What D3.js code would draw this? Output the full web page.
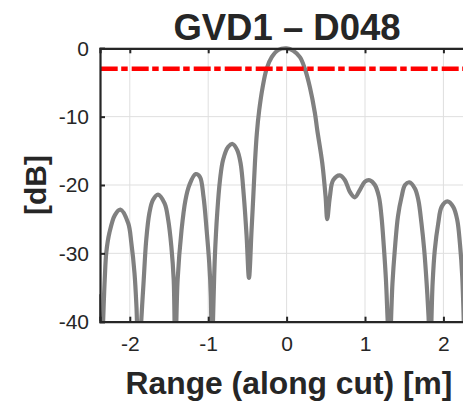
<!DOCTYPE html>
<html>
<head>
<meta charset="utf-8">
<script src="https://cdn.jsdelivr.net/npm/d3@7"></script>
<style>
  body { margin: 0; background: #fff; }
  text { font-family: "Liberation Sans", Arial, sans-serif; fill: #262626; }
</style>
</head>
<body>
<div id="chart"></div>
<script>
// values
var rangeM = [-2.40, -2.365, -2.32, -2.30, -2.26, -2.19, -2.12, -2.02, -1.98, -1.94, -1.915, -1.89,
  -1.83, -1.79, -1.75, -1.705, -1.64, -1.556, -1.51, -1.47, -1.44, -1.42,
  -1.39, -1.34, -1.29, -1.24, -1.16, -1.106, -1.06, -1.02, -0.987, -0.966, -0.955,
  -0.915, -0.885, -0.85, -0.81, -0.745, -0.69, -0.63, -0.587, -0.545, -0.51, -0.48,
  -0.447, -0.425, -0.404, -0.38, -0.35, -0.306, -0.255, -0.19, -0.107, 0, 0.085, 0.17,
  0.233, 0.297, 0.36, 0.39, 0.455, 0.497, 0.518,
  0.552, 0.594, 0.68, 0.744, 0.807, 0.87, 0.935, 0.999, 1.06, 1.126, 1.177, 1.21, 1.24, 1.267, 1.288, 1.31,
  1.35, 1.38, 1.42, 1.467, 1.51, 1.564, 1.636, 1.68, 1.72, 1.755, 1.786, 1.81, 1.83,
  1.862, 1.89, 1.934, 1.977, 2.05, 2.125, 2.176, 2.21, 2.24, 2.27];
var powerDb = [-36, -45, -33.9, -29.9, -27.0, -24.4, -23.6, -25.6, -28.5, -32.9, -37.8, -45,
  -35.3, -28.0, -24.1, -22.2, -21.4, -22.7, -25.1, -29.0, -33.9, -45,
  -33.9, -26.6, -22.2, -20.0, -18.4, -18.8, -21.7, -26.6, -31.4, -36.3, -45,
  -30.5, -24.1, -19.3, -16.3, -14.4, -14.0, -14.9, -16.8, -21.7, -27.5, -33.6,
  -26.6, -21.7, -16.8, -12.5, -9.1, -5.7, -3.0, -1.3, -0.25, 0, -0.35, -1.3,
  -3.0, -5.7, -9.4, -11.9, -16.8, -21.7, -25.0,
  -21.7, -19.3, -18.6, -19.3, -21.0, -21.8, -20.7, -19.5, -19.3, -20.0, -21.7, -24.6, -29.0, -33.9, -39.6, -45,
  -34.4, -29.5, -24.6, -21.7, -20.0, -19.6, -20.5, -22.2, -25.6, -29.5, -34.4, -39.2, -45,
  -34.4, -29.5, -25.6, -23.2, -22.4, -23.2, -25.1, -28.5, -33.4, -45];
var halfPower = -3;
var xTicks = [-2, -1, 0, 1, 2];
var yTicks = [-40, -30, -20, -10, 0];

var W = 463, H = 405;
var margin = { top: 48.3, left: 100 },
    plotW = 374,
    plotH = 273.4;

var svg = d3.select("#chart").append("svg")
    .attr("width", W)
    .attr("height", H);

var x = d3.scaleLinear().domain([-2.38, 2.39]).range([margin.left, margin.left + plotW]);
var y = d3.scaleLinear().domain([-40, 0]).range([margin.top + plotH, margin.top]);

// clip the data at the axes limits, but let the stroke hang over a bit
svg.append("defs").append("clipPath").attr("id", "clip")
  .append("rect")
    .attr("x", margin.left - 1).attr("y", margin.top - 2.5)
    .attr("width", plotW + 1).attr("height", plotH + 2);

// grid
svg.append("g").selectAll("line").data(xTicks).join("line")
    .attr("x1", function (d) { return x(d); }).attr("x2", function (d) { return x(d); })
    .attr("y1", margin.top).attr("y2", margin.top + plotH)
    .attr("stroke", "#dfdfdf").attr("stroke-width", 1);
svg.append("g").selectAll("line").data(yTicks).join("line")
    .attr("y1", function (d) { return y(d); }).attr("y2", function (d) { return y(d); })
    .attr("x1", margin.left).attr("x2", margin.left + plotW)
    .attr("stroke", "#dfdfdf").attr("stroke-width", 1);

// curve
var pts = rangeM.map(function (r, i) { return [r, powerDb[i]]; });
var line = d3.line()
    .x(function (d) { return x(d[0]); })
    .y(function (d) { return y(d[1]); })
    .curve(d3.curveCatmullRom.alpha(0.5));

var plot = svg.append("g").attr("clip-path", "url(#clip)");
plot.append("path")
    .datum(pts)
    .attr("d", line)
    .attr("fill", "none")
    .attr("stroke", "#808080")
    .attr("stroke-width", 4.2)
    .attr("stroke-linejoin", "round");

// -3 dB line
plot.append("line")
    .attr("x1", margin.left + 0.7).attr("x2", margin.left + plotW)
    .attr("y1", y(halfPower)).attr("y2", y(halfPower))
    .attr("stroke", "#ff0000")
    .attr("stroke-width", 4.5)
    .attr("stroke-dasharray", "17,3.5,6.5,4");

// axes
var fmt = function (d) { return String(d); };
var ax = d3.axisBottom(x).tickValues(xTicks).tickSize(-5).tickPadding(14).tickFormat(fmt);
var gx = svg.append("g")
    .attr("transform", "translate(0," + (margin.top + plotH) + ")")
    .call(ax);
var axTop = d3.axisTop(x).tickValues(xTicks).tickSize(-5).tickFormat("");
var gxt = svg.append("g")
    .attr("transform", "translate(0," + margin.top + ")")
    .call(axTop);
var ay = d3.axisLeft(y).tickValues(yTicks).tickSize(-5).tickPadding(11).tickFormat(fmt);
var gy = svg.append("g")
    .attr("transform", "translate(" + margin.left + ",0)")
    .call(ay);

[gx, gxt, gy].forEach(function (g) {
  g.select(".domain").attr("stroke", "#262626").attr("stroke-width", 2.2);
  g.selectAll(".tick line").attr("stroke", "#262626").attr("stroke-width", 2);
  g.selectAll(".tick text")
    .style("font-family", "'Liberation Sans', Arial, sans-serif")
    .style("font-size", "21px")
    .attr("fill", "#262626");
});
gx.selectAll(".tick text").attr("dy", "0.71em");

// title
svg.append("text")
    .attr("x", 287)
    .attr("y", 40)
    .attr("text-anchor", "middle")
    .style("font-size", "36.5px")
    .style("font-weight", "bold")
    .attr("fill", "#000")
    .text("GVD1 \u2013 D048");

// x label
svg.append("text")
    .attr("x", 289)
    .attr("y", 394)
    .attr("text-anchor", "middle")
    .style("font-size", "31.8px")
    .style("font-weight", "bold")
    .text("Range (along cut) [m]");

// y label
svg.append("text")
    .attr("transform", "translate(46," + (margin.top + plotH / 2) + ") rotate(-90)")
    .attr("text-anchor", "middle")
    .style("font-size", "30px")
    .style("font-weight", "bold")
    .text("[dB]");
</script>
</body>
</html>
